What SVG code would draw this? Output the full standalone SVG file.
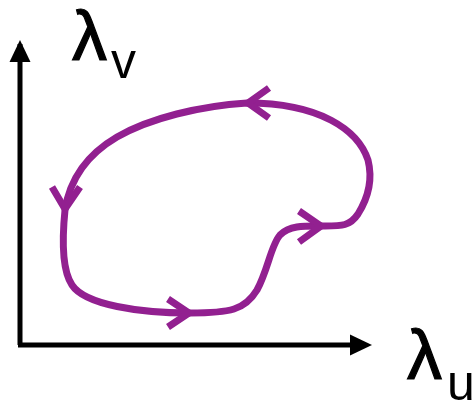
<svg xmlns="http://www.w3.org/2000/svg" width="473" height="402" viewBox="0 0 473 402">
<style>
.ax{stroke:#000;stroke-width:5;fill:none}
.loop{stroke:#922090;stroke-width:7;fill:none;stroke-linecap:butt;stroke-linejoin:miter}
.g{font-family:"Liberation Sans",Arial,sans-serif;fill:#000;stroke:#000;stroke-width:1.2;font-size:70px}
.s{font-family:"Liberation Sans",Arial,sans-serif;fill:#000;font-size:50px}
</style>
<g id="connectors">
<path class="ax" d="M20,345 V44"/>
<polygon points="20,40 9.5,62 30.5,62" fill="#000"/>
<path class="ax" d="M18,345 H352"/>
<polygon points="372,345 350,334.5 350,355.5" fill="#000"/>
</g>
<g id="loop">
<path class="loop" d="M247,103 C200,106 150,118 117,137 C88,154 70,178 65,210 C62,240 62,270 72,285 C85,305 140,313 190,313 C230,313 245,310 257,290 C268,270 271,245 280,235 C290,225 305,226 325,226 C342,226 350,226 358,214 C368,198 373,180 368,160 C358,130 320,103 247,103 Z"/>
<path class="loop" d="M269,88 L248,103 L269,118"/>
<path class="loop" d="M52,187 L65,209 L80,187"/>
<path class="loop" d="M168,299 L189,313 L168,327"/>
<path class="loop" d="M299,211 L321,226 L299,242"/>
</g>
<g id="labels">
<text class="g" x="72" y="60">λ</text>
<text class="s" x="111" y="78">v</text>
<text class="g" x="407" y="379">λ</text>
<text class="s" x="447" y="400">u</text>
</g>
</svg>
